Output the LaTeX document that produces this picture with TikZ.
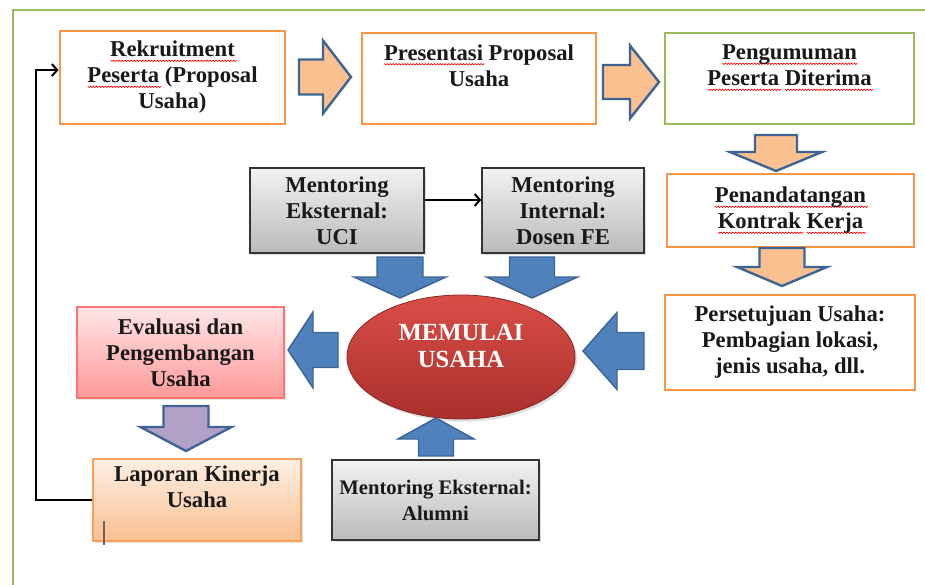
\documentclass[tikz,border=0pt]{standalone}
\usepackage{fontspec}
\setmainfont{Liberation Serif}
\usepackage{tikz}
\usetikzlibrary{arrows,arrows.meta,shapes,shapes.geometric}
\usetikzlibrary{calc,positioning,shadows}
\usepackage[dvipsnames]{xcolor}

\definecolor{frameGreen}{HTML}{9BBB59}
\definecolor{boxOrange}{HTML}{F79646}
\definecolor{arrFill}{HTML}{FAC090}
\definecolor{arrEdge}{HTML}{3D6494}
\definecolor{arrBlue}{HTML}{4F81BD}
\definecolor{arrPurple}{HTML}{B2A1C7}
\definecolor{ovalTop}{HTML}{DA4D47}
\definecolor{ovalBot}{HTML}{A9302C}

% red wavy underline under a word
\newbox\wordbox
\newdimen\wavex
\newdimen\wavew
\newcommand{\spell}[1]{\setbox\wordbox=\hbox{#1}\wavew=\wd\wordbox
  \rlap{\smash{\pgfpicture\pgfsetbaseline{0pt}\pgfsetlinewidth{0.5pt}\pgfsetstrokecolor{red}%
    \pgfpathmoveto{\pgfpoint{0pt}{-2.4pt}}\wavex=0pt
    \loop\advance\wavex by 1.1pt \pgfpathlineto{\pgfpoint{\wavex}{-3.4pt}}%
      \advance\wavex by 1.1pt \pgfpathlineto{\pgfpoint{\wavex}{-2.4pt}}%
    \ifdim\wavex<\wavew\repeat
    \pgfusepath{stroke}\endpgfpicture}}\box\wordbox\relax}

\tikzset{
  size/.style 2 args={minimum width=#1*0.75pt, minimum height=#2*0.75pt},
  txt/.style={font=\fontsize{17}{19.5}\selectfont\bfseries, text=black!90, align=center, inner sep=2pt},
  obox/.style={txt, rectangle, draw=boxOrange, line width=2.2pt, fill=white},
  gbox/.style={txt, rectangle, draw=frameGreen, line width=2.2pt, fill=white},
  mbox/.style={txt, rectangle, draw=black!80, line width=1.1pt, top color=black!5, bottom color=black!27,
    drop shadow={opacity=0.25, shadow xshift=1.5pt, shadow yshift=-1.5pt}},
  pics/blkarr/.style n args={4}{code={
    \draw[pic actions] (0,-#3) -- (#1-#2,-#3) -- (#1-#2,-#4) -- (#1,0) -- (#1-#2,#4) -- (#1-#2,#3) -- (0,#3) -- cycle;
  }},
  oarr/.style={draw=arrEdge, fill=arrFill, line width=1.8pt, miter limit=10},
  barr/.style={draw=arrEdge, fill=arrBlue, line width=1.1pt, miter limit=10},
  parr/.style={draw=arrEdge, fill=arrPurple, line width=1.8pt, miter limit=10},
  fb/.style={line width=1.5pt, -{Straight Barb[length=4pt, width=9pt]}},
}

\begin{document}
\begin{tikzpicture}[x=0.75pt, y=-0.75pt]
  \useasboundingbox (0,0) rectangle (925,585);
  \draw[frameGreen, line width=2.2pt] (13,585) -- (13,10) -- (925,10);

  % top row
  \node[obox, size={225}{93}] (rekrut) at (172.5,77.5) {\spell{Rekruitment}\\ \spell{Peserta} (Proposal\\ Usaha)};
  \node[obox, size={234}{91}] (presentasi) at (479,78.5) {\spell{Presentasi} Proposal\\ Usaha\\ \mbox{}};
  \node[gbox, size={249}{91}] (umum) at (789.5,78.5) {\spell{Pengumuman}\\ \spell{Peserta} \spell{Diterima}\\ \mbox{}};

  % right column
  \node[obox, size={247}{73}] (kontrak) at (790.5,210.5) {\spell{Penandatangan}\\ \spell{Kontrak} \spell{Kerja}};
  \node[obox, size={250}{95}] (setuju) at (790,342.5) {Persetujuan Usaha:\\ Pembagian lokasi,\\ jenis usaha, dll.};

  % mentoring
  \node[mbox, size={174}{85}] (uci) at (337,210.5) {Mentoring\\ Eksternal:\\ UCI};
  \node[mbox, size={162}{85}] (internal) at (563,210.5) {Mentoring\\ Internal:\\ Dosen FE};
  \node[mbox, size={207}{80}, font=\fontsize{15.5}{19.5}\selectfont\bfseries] (alumni) at (435.5,500) {Mentoring Eksternal:\\ Alumni};

  % centre
  \node[ellipse, size={228}{124}, draw=ovalBot!80!black, line width=0.6pt, top color=ovalTop, bottom color=ovalBot,
    drop shadow={opacity=0.25, shadow xshift=1.5pt, shadow yshift=-2pt}] (mulai) at (461,357) {};
  \node[txt, text=white, font=\fontsize{18.5}{20.5}\selectfont\bfseries] (mulaitxt) at (461,346) {MEMULAI\\ USAHA};

  % left column
  \node[txt, rectangle, size={207}{91}, draw=red!55, line width=0.8pt, top color=red!10, bottom color=red!40,
    drop shadow={opacity=0.2, shadow xshift=1.5pt, shadow yshift=-1.5pt}] (evaluasi) at (180.5,352.5) {Evaluasi dan\\ Pengembangan\\ Usaha};
  \node[txt, rectangle, size={208}{82}, draw=boxOrange!90, line width=0.8pt, top color=boxOrange!15, bottom color=boxOrange!60,
    drop shadow={opacity=0.2, shadow xshift=1.5pt, shadow yshift=-1.5pt}] (laporan) at (197,500) {Laporan Kinerja\\ Usaha\\ \mbox{}};
  \draw[black!60, line width=0.8pt] (104,521) -- (104,545);

  % block arrows
  \pic[oarr] (a1) at (299,77) {blkarr={52}{28}{17.5}{36.5}};
  \pic[oarr] (a2) at (603,82) {blkarr={56}{29}{17}{36.5}};
  \pic[oarr, rotate=-90] (a3) at (776,135) {blkarr={36}{19}{21}{46}};
  \pic[oarr, rotate=-90] (a4) at (782,248) {blkarr={38}{19}{22.5}{45}};
  \pic[barr, rotate=180] (a5) at (644,351) {blkarr={61}{34}{18.5}{38.5}};
  \pic[barr, rotate=-90] (a6) at (400,257) {blkarr={41}{21}{23}{46}};
  \pic[barr, rotate=-90] (a7) at (532,257) {blkarr={41}{21}{22.5}{45.5}};
  \pic[barr, rotate=180] (a8) at (338,350) {blkarr={50}{25}{17.5}{38}};
  \pic[parr, rotate=-90] (a9) at (186,406) {blkarr={45}{24}{22.5}{45.5}};
  \pic[barr, rotate=90] (a10) at (436,456) {blkarr={38}{21}{17.5}{38}};

  % line connectors
  \draw[fb] ([yshift=7.9pt]uci.east) -- ([yshift=7.9pt]internal.west);
  \coordinate (back) at (36,500);
  \draw[fb] (laporan.west) -- (back) |- ([yshift=5.6pt]rekrut.west);
\end{tikzpicture}
\end{document}
